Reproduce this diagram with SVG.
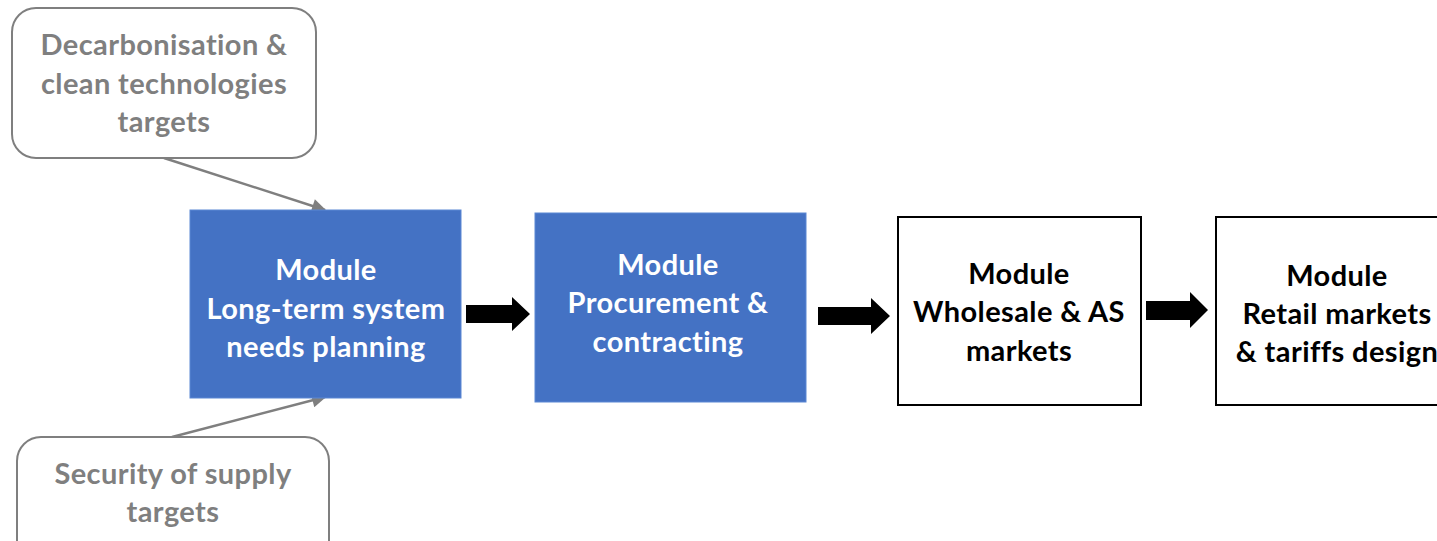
<svg xmlns="http://www.w3.org/2000/svg" width="1437" height="541" viewBox="0 0 1437 541">
  <style>
    .lbl { font-family: Lato, "Open Sans", "Liberation Sans", sans-serif; font-weight: bold; font-size: 29px; letter-spacing: 0.4px; text-anchor: middle; dominant-baseline: central; }
    .grey-box { fill: #ffffff; stroke: #7f7f7f; stroke-width: 2; }
    .grey-txt { fill: #7f7f7f; }
    .blue-box { fill: #4472c4; stroke: #5b87d4; stroke-width: 1; }
    .white-txt { fill: #ffffff; }
    .plain-box { fill: #ffffff; stroke: #000000; stroke-width: 2; }
    .dark-txt { fill: #000000; }
    .link { stroke: #7f7f7f; stroke-width: 2.4; fill: none; marker-end: url(#head); }
    .block { fill: #000000; }
  </style>
  <defs>
    <marker id="head" viewBox="0 0 10 10" refX="9" refY="5" markerWidth="6.5" markerHeight="6" orient="auto" markerUnits="strokeWidth">
      <path d="M0,0 L10,5 L0,10 Z" fill="#7f7f7f"/>
    </marker>
  </defs>

  <g id="connectors">
    <line class="link" x1="164" y1="158" x2="325" y2="210"/>
    <line class="link" x1="172" y1="437" x2="325" y2="397"/>
    <path class="block" d="M466,305 L512,305 L512,297 L530,314 L512,331 L512,323 L466,323 Z"/>
    <path class="block" d="M818,307 L871,307 L871,298 L890,316 L871,334 L871,325 L818,325 Z"/>
    <path class="block" d="M1146,301 L1190,301 L1190,292 L1208,310 L1190,328 L1190,320 L1146,320 Z"/>
  </g>

  <g id="decarbonisation-targets">
    <rect class="grey-box" x="12" y="8" width="304" height="150" rx="24"/>
    <text class="lbl grey-txt" x="164" y="43">Decarbonisation &amp;</text>
    <text class="lbl grey-txt" x="164" y="82">clean technologies</text>
    <text class="lbl grey-txt" x="164" y="120">targets</text>
  </g>

  <g id="security-targets">
    <rect class="grey-box" x="17" y="437" width="312" height="130" rx="24"/>
    <text class="lbl grey-txt" x="173" y="472">Security of supply</text>
    <text class="lbl grey-txt" x="173" y="510">targets</text>
  </g>

  <g id="long-term-planning">
    <rect class="blue-box" x="190" y="210" width="271" height="188"/>
    <text class="lbl white-txt" x="326" y="268">Module</text>
    <text class="lbl white-txt" x="326" y="307">Long-term system</text>
    <text class="lbl white-txt" x="326" y="345">needs planning</text>
  </g>

  <g id="procurement">
    <rect class="blue-box" x="535" y="213" width="271" height="189"/>
    <text class="lbl white-txt" x="668" y="263">Module</text>
    <text class="lbl white-txt" x="668" y="301">Procurement &amp;</text>
    <text class="lbl white-txt" x="668" y="340">contracting</text>
  </g>

  <g id="wholesale">
    <rect class="plain-box" x="898" y="217" width="243" height="188"/>
    <text class="lbl dark-txt" x="1019" y="272">Module</text>
    <text class="lbl dark-txt" x="1019" y="310">Wholesale &amp; AS</text>
    <text class="lbl dark-txt" x="1019" y="349">markets</text>
  </g>

  <g id="retail">
    <rect class="plain-box" x="1216" y="217" width="240" height="188"/>
    <text class="lbl dark-txt" x="1337" y="274">Module</text>
    <text class="lbl dark-txt" x="1337" y="312">Retail markets</text>
    <text class="lbl dark-txt" x="1337" y="350">&amp; tariffs design</text>
  </g>
</svg>
